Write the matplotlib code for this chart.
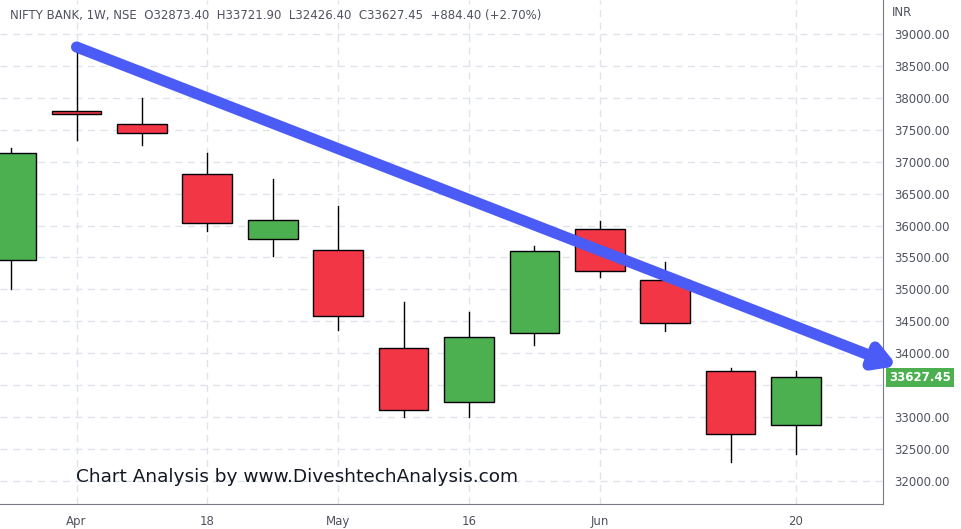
import numpy as np
import matplotlib
matplotlib.use("Agg")
from matplotlib import pyplot as plt

# weekly candles, NIFTY BANK
opens = [35461, 37800, 37590, 36808, 35790, 35617, 34083, 33237, 34318, 35946, 35148, 33723, 32873.40]
closes = [37136, 37750, 37450, 36040, 36090, 34584, 33112, 34255, 35600, 35290, 34475, 32737, 33627.45]
highs = [37215, 38765, 38000, 37135, 36730, 36307, 34800, 34647, 35680, 36070, 35430, 33770, 33721.90]
lows = [35007, 37340, 37262, 35915, 35520, 34365, 33003, 33003, 34130, 35195, 34350, 32300, 32426.40]
tick_pos = [1, 3, 5, 7, 9, 12]
tick_labels = ['Apr', '18', 'May', '16', 'Jun', '20']
y_ticks = np.arange(32000, 39001, 500)
arrow_start = (1, 38796)
arrow_end = (13.55, 33800)

green = '#4caf50'
red = '#f23645'

fig = plt.figure(figsize=(9.62, 5.29), dpi=100)
ax = fig.add_axes([0, 25 / 529, 883 / 962, 504 / 529])
ax.set_xlim(-0.17, 13.33)
ax.set_ylim(31640, 39532)

for i, (o, c, h, l) in enumerate(zip(opens, closes, highs, lows)):
    col = green if c >= o else red
    ax.plot([i, i], [l, h], color='black', lw=1, zorder=2)
    ax.add_patch(plt.Rectangle((i - 0.38, min(o, c)), 0.76, max(abs(c - o), 20),
                               facecolor=col, edgecolor='black', lw=1, zorder=3))

ax.set_yticks(y_ticks)
ax.set_xticks(tick_pos)
ax.set_xticklabels(tick_labels)
ax.grid(True, color='#e0e3eb', ls=(0, (5, 4)), lw=1)
ax.set_axisbelow(True)
ax.yaxis.tick_right()
# the last-price tag covers the 33500 label
ax.set_yticklabels(['' if v == 33500 else f'{v:.2f}' for v in y_ticks])
ax.tick_params(axis='both', length=0, colors='#50535e', labelsize=8.5, pad=8)
for s in ['top', 'left']:
    ax.spines[s].set_visible(False)
ax.spines['right'].set_color('#787b86')
ax.spines['bottom'].set_color('#787b86')

ax.annotate('', xy=arrow_end, xytext=arrow_start, annotation_clip=False,
            arrowprops=dict(arrowstyle='-|>,head_length=1.2,head_width=0.7', color='#4a5cf5',
                            lw=8, shrinkA=0, shrinkB=0), zorder=5)

ax.text(1.007, 33627.45, '33627.45', transform=ax.get_yaxis_transform(), va='center', ha='left',
        color='white', fontsize=8.5, fontweight='bold', zorder=6,
        bbox=dict(boxstyle='square,pad=0.25', fc=green, ec='none'), clip_on=False)

fig.text(10 / 962, 1 - 15 / 529, 'NIFTY BANK, 1W, NSE  O32873.40  H33721.90  L32426.40  C33627.45  +884.40 (+2.70%)',
         fontsize=8.5, color='#50535e', va='center')
fig.text(892 / 962, 1 - 13 / 529, 'INR', fontsize=8.5, color='#50535e', va='center')
fig.text(76 / 962, 1 - 477 / 529, 'Chart Analysis by www.DiveshtechAnalysis.com', fontsize=13.3,
         color='#131722', va='center')

fig.savefig('out.png', dpi=100)
